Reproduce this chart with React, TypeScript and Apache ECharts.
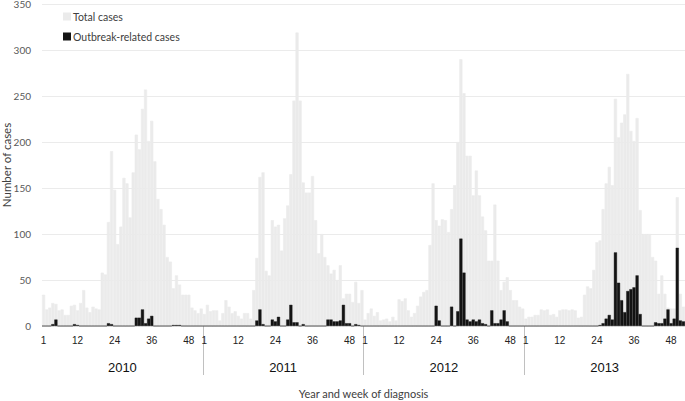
import React, { useEffect, useRef } from "react";
import * as echarts from "echarts";

const years = ["2010", "2011", "2012", "2013"];
const weekTickLabels = [1, 12, 24, 36, 48];
const yTicks = { min: 0, max: 350, interval: 50 };

const total2010 = [34, 18, 20, 25, 24, 17, 18, 12, 12, 22, 23, 17, 25, 39, 20, 15, 21, 19, 18, 58, 56, 113, 190, 148, 89, 108, 161, 155, 118, 167, 208, 192, 236, 257, 201, 223, 179, 138, 127, 110, 75, 70, 41, 55, 45, 34, 34, 34, 20, 17, 14, 19];
const total2011 = [13, 23, 16, 17, 17, 6, 14, 28, 21, 14, 16, 11, 8, 14, 14, 8, 39, 74, 162, 167, 60, 55, 115, 108, 110, 82, 117, 131, 165, 245, 319, 245, 156, 145, 145, 163, 115, 79, 100, 75, 66, 57, 61, 50, 66, 30, 35, 35, 26, 48, 25, 39];
const total2012 = [7, 14, 19, 11, 15, 6, 7, 8, 5, 10, 6, 29, 27, 30, 17, 10, 14, 22, 32, 37, 39, 88, 155, 115, 109, 116, 115, 102, 127, 153, 200, 290, 253, 185, 185, 142, 169, 142, 119, 104, 71, 71, 132, 71, 39, 48, 53, 39, 28, 28, 21, 19];
const total2013 = [8, 10, 10, 12, 12, 18, 17, 18, 12, 13, 10, 17, 18, 18, 17, 18, 17, 9, 10, 34, 43, 41, 61, 91, 93, 127, 155, 173, 153, 247, 205, 221, 230, 274, 212, 201, 226, 126, 100, 100, 100, 75, 71, 35, 55, 35, 20, 19, 19, 140, 35, 21];

const outbreak2010 = [0, 0, 0, 2, 7, 0, 0, 0, 0, 0, 2, 1, 0, 0, 0, 0, 0, 0, 0, 0, 0, 3, 2, 0, 0, 0, 0, 0, 0, 0, 9, 9, 18, 3, 8, 11, 0, 0, 0, 0, 0, 0, 1, 1, 1, 0, 0, 0, 0, 0, 0, 0];
const outbreak2011 = [0, 0, 0, 0, 0, 0, 0, 0, 0, 0, 0, 0, 0, 0, 0, 0, 0, 6, 18, 2, 0, 0, 7, 5, 10, 0, 0, 7, 23, 4, 4, 0, 2, 0, 0, 0, 0, 0, 0, 0, 7, 7, 5, 5, 6, 23, 3, 3, 0, 2, 1, 0];
const outbreak2012 = [0, 0, 0, 0, 0, 0, 0, 0, 0, 0, 0, 0, 0, 0, 0, 0, 0, 0, 0, 0, 0, 0, 0, 22, 6, 0, 0, 0, 21, 0, 16, 95, 58, 7, 5, 7, 5, 7, 3, 2, 0, 17, 3, 3, 7, 17, 5, 0, 0, 0, 0, 0];
const outbreak2013 = [0, 0, 0, 0, 0, 0, 0, 0, 0, 0, 0, 0, 0, 0, 0, 0, 0, 0, 0, 0, 0, 0, 0, 0, 1, 3, 8, 12, 7, 80, 47, 28, 15, 38, 40, 42, 55, 13, 0, 0, 0, 0, 4, 3, 3, 8, 18, 3, 8, 85, 6, 5];

const totalByYear = [total2010, total2011, total2012, total2013];
const outbreakByYear = [outbreak2010, outbreak2011, outbreak2012, outbreak2013];

const categories: string[] = [];
years.forEach((y) => {
  for (let w = 1; w <= 52; w++) categories.push(`${y}-W${w}`);
});
const totalData = totalByYear.flat();
const outbreakData = outbreakByYear.flat();

const calibriLike = "Lato, 'Open Sans', sans-serif";
const arialLike = "'Liberation Sans', Arial, sans-serif";

export default function App() {
  const ref = useRef<HTMLDivElement>(null);
  useEffect(() => {
    if (!ref.current) return;
    const chart = echarts.init(ref.current, undefined, { renderer: "svg" });
    chart.setOption({
      animation: false,
      backgroundColor: "#ffffff",
      grid: { left: 42, right: 0, top: 4, bottom: 75, containLabel: false, outerBoundsMode: "none" },
      legend: {
        orient: "vertical",
        left: 58,
        top: 6,
        itemWidth: 6,
        itemHeight: 6,
        itemGap: 9,
        icon: "rect",
        textStyle: { fontFamily: calibriLike, fontSize: 10.5, color: "#404040", padding: [0, 0, 0, -2] },
        data: ["Total cases", "Outbreak-related cases"],
      },
      xAxis: [
        {
          type: "category",
          data: categories,
          gridIndex: 0,
          axisLine: { show: false },
          axisTick: { show: false },
          axisLabel: {
            interval: (i: number) => weekTickLabels.includes((i % 52) + 1),
            formatter: (v: string) => v.split("-W")[1],
            margin: 9,
            fontFamily: arialLike,
            fontSize: 10,
            color: "#222222",
          },
          name: "Year and week of diagnosis",
          nameLocation: "middle",
          nameGap: 62,
          nameMoveOverlap: false,
          nameTextStyle: { fontFamily: calibriLike, fontSize: 11, color: "#404040" },
        },
        {
          type: "category",
          data: years,
          gridIndex: 0,
          position: "bottom",
          axisLine: { show: false },
          axisTick: {
            show: true,
            length: 49,
            interval: (i: number) => i > 0,
            lineStyle: { color: "#c0c0c0", width: 1 },
          },
          axisLabel: {
            margin: 35,
            fontFamily: arialLike,
            fontSize: 13,
            color: "#111111",
          },
        },
      ],
      yAxis: {
        type: "value",
        min: yTicks.min,
        max: yTicks.max,
        interval: yTicks.interval,
        axisLine: { show: false },
        axisTick: { show: false },
        axisLabel: { margin: 11, fontFamily: calibriLike, fontSize: 10, color: "#595959" },
        splitLine: { lineStyle: { color: "#ebebeb", width: 1 } },
        name: "Number of cases",
        nameLocation: "middle",
        nameRotate: 90,
        nameGap: 30,
        nameMoveOverlap: false,
        nameTextStyle: { fontFamily: calibriLike, fontSize: 11.5, color: "#404040" },
      },
      series: [
        {
          name: "Total cases",
          type: "bar",
          data: totalData,
          barCategoryGap: "0%",
          barGap: "-100%",
          itemStyle: { color: "#ebebeb", borderColor: "#ebebeb", borderWidth: 0.6 },
        },
        {
          name: "Outbreak-related cases",
          type: "bar",
          data: outbreakData,
          barCategoryGap: "0%",
          barGap: "-100%",
          itemStyle: { color: "#141414", borderColor: "#141414", borderWidth: 0.4 },
        },
      ],
    });
    return () => chart.dispose();
  }, []);
  return <div ref={ref} style={{ width: 685, height: 401, position: "absolute", left: 0, top: 0 }} />;
}
